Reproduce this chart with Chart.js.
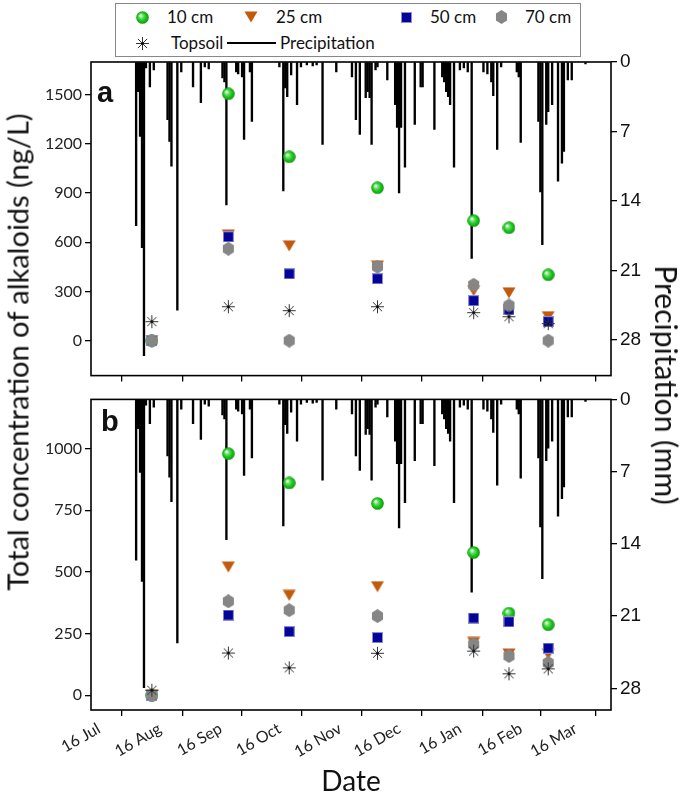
<!DOCTYPE html>
<html>
<head>
<meta charset="utf-8">
<script src="https://cdn.jsdelivr.net/npm/chart.js"></script>
<style>
  body { margin: 0; width: 685px; height: 798px; position: relative; background: #fff; overflow: hidden; font-family: Lato, sans-serif; color: #111; }
  canvas { position: absolute; left: 0; }
  #chartA { top: 0; }
  #chartB { top: 385px; }
  .legend { position: absolute; left: 115px; top: 3px; width: 466px; height: 54px; border: 1px solid #888; box-sizing: border-box; background: #fff; }
  .lg { position: absolute; font-size: 17px; line-height: 17px; white-space: nowrap; }
  .mk { position: absolute; }
  .panel { position: absolute; font-family: "Liberation Sans", Arial, sans-serif; font-weight: bold; font-size: 29px; }
  .title { position: absolute; white-space: nowrap; font-size: 29px; }
</style>
</head>
<body>
<canvas id="chartA" width="685" height="390"></canvas>
<canvas id="chartB" width="685" height="413"></canvas>

<div class="legend"></div>
<div id="legendItems"></div>

<div class="panel" style="left:97px; top:76px;">a</div>
<div class="panel" style="left:101px; top:405px;">b</div>

<div class="title" style="left:17px; top:352px; transform: translate(-50%,-50%) rotate(-90deg);">Total concentration of alkaloids (ng/L)</div>
<div class="title" style="left:667px; top:385px; font-size:30px; transform: translate(-50%,-50%) rotate(90deg);">Precipitation (mm)</div>
<div class="title" style="left:351px; top:780px; font-size:28px; transform: translate(-50%,-50%);">Date</div>

<script>
// days counted from 16 Jul
const xTickDays = [0, 31, 62, 92, 123, 153, 184, 215, 243];
const xTickLabels = ['16 Jul', '16 Aug', '16 Sep', '16 Oct', '16 Nov', '16 Dec', '16 Jan', '16 Feb', '16 Mar'];
const leftTicksA = [0, 300, 600, 900, 1200, 1500];
const leftTicksB = [0, 250, 500, 750, 1000];
const rightTicks = [0, 7, 14, 21, 28];

const sampleDays = [31, 70, 101, 146, 195, 213, 233];

// panel a
const a10cm    = [0, 1506, 1122, 933, 732, 689, 402];
const a25cm    = [0, 645, 578, 455, 305, 292, 146];
const a50cm    = [0, 634, 408, 378, 244, 189, 116];
const a70cm    = [0, 561, 0, 451, 341, 215, 0];
const aTopsoil = [116, 207, 183, 207, 171, 146, 104];

// panel b
const b10cm    = [0, 980, 861, 778, 579, 333, 286];
const b25cm    = [0, 520, 405, 440, 214, 167, 167];
const b50cm    = [0, 325, 258, 234, 313, 298, 191];
const b70cm    = [0, 381, 345, 321, 206, 159, 131];
const bTopsoil = [20, 171, 111, 170, 179, 87, 107];

// daily precipitation (mm)
const precipDay = [23, 24, 25, 26, 27, 28, 30, 32, 39, 40, 41, 44, 46, 52, 56, 58, 60,
  67, 68, 69, 74, 75, 77, 78, 81, 82, 96, 98, 99, 100, 102, 105, 107, 110, 113, 115, 118,
  125, 133, 135, 137, 140, 141, 142, 143, 145, 146, 151, 155, 156, 157, 158, 160, 165, 168, 169,
  175, 179, 180, 181, 182, 183, 185, 188, 190, 192, 194, 200, 202, 204, 205, 207, 209,
  217, 218, 219, 228, 229, 230, 232, 233, 235, 238, 240, 241, 243, 245, 252];
const precipMm = [16.5, 3.0, 7.5, 18.7, 29.6, 0.6, 2.5, 0.8, 5.8, 8.0, 10.5, 25.0, 1.0, 2.5, 4.1, 0.5, 0.7,
  1.6, 2.0, 14.4, 1.0, 1.2, 1.5, 7.8, 1.0, 6.0, 0.5, 13.0, 2.6, 3.5, 1.3, 4.3, 0.5, 0.3, 0.4, 0.3, 8.3,
  1.0, 1.5, 5.8, 7.3, 3.6, 3.0, 3.6, 8.3, 0.8, 0.5, 1.8, 4.3, 6.6, 13.2, 6.6, 10.6, 6.3, 2.5, 2.5,
  6.8, 1.5, 2.0, 3.0, 3.5, 4.3, 10.6, 0.8, 0.6, 1.0, 19.8, 1.0, 1.2, 2.0, 3.4, 8.8, 0.5,
  1.0, 1.5, 8.1, 6.0, 13.1, 18.4, 6.3, 5.0, 4.3, 12.0, 10.2, 9.0, 1.8, 1.8, 0.2];

// ---- marker images ----
function mkCanvas(w, h) {
  const c = document.createElement('canvas');
  c.width = w; c.height = h;
  return c;
}
function sphere() {
  const c = mkCanvas(13, 13), g = c.getContext('2d');
  const grd = g.createRadialGradient(4.5, 4.5, 0.5, 6.5, 6.5, 6.5);
  grd.addColorStop(0, '#ffffff');
  grd.addColorStop(0.25, '#6be86b');
  grd.addColorStop(0.6, '#22c422');
  grd.addColorStop(1, '#0b960b');
  g.fillStyle = grd;
  g.beginPath(); g.arc(6.5, 6.5, 6.3, 0, Math.PI * 2); g.fill();
  return c;
}
function triDown() {
  const c = mkCanvas(14, 12), g = c.getContext('2d');
  g.fillStyle = '#c25a0e';
  g.beginPath(); g.moveTo(0.5, 0.5); g.lineTo(13.5, 0.5); g.lineTo(7, 11.5); g.closePath(); g.fill();
  return c;
}
function square() {
  const c = mkCanvas(11, 11), g = c.getContext('2d');
  g.fillStyle = '#8c8cd0'; g.fillRect(0, 0, 11, 11);
  g.fillStyle = '#04049a'; g.fillRect(1, 1, 9, 9);
  return c;
}
function hexagon() {
  const c = mkCanvas(13, 14), g = c.getContext('2d');
  g.fillStyle = '#868686';
  g.beginPath();
  for (let i = 0; i < 6; i++) {
    const a = Math.PI / 2 + i * Math.PI / 3;
    const px = 6.5 + 6.4 * Math.cos(a), py = 7 + 6.9 * Math.sin(a);
    i ? g.lineTo(px, py) : g.moveTo(px, py);
  }
  g.closePath(); g.fill();
  return c;
}
function asterisk() {
  const c = mkCanvas(15, 15), g = c.getContext('2d');
  g.strokeStyle = '#333'; g.lineWidth = 1;
  g.beginPath();
  for (let i = 0; i < 4; i++) {
    const a = i * Math.PI / 4;
    g.moveTo(7.5 - 6.5 * Math.cos(a), 7.5 - 6.5 * Math.sin(a));
    g.lineTo(7.5 + 6.5 * Math.cos(a), 7.5 + 6.5 * Math.sin(a));
  }
  g.stroke();
  g.fillStyle = '#000'; g.fillRect(6.5, 6.5, 2, 2);
  return c;
}
const mSphere = sphere(), mTri = triDown(), mSq = square(), mHex = hexagon(), mAst = asterisk();

// ---- legend (html) ----
const legendItems = [
  [mSphere, 142, 17, '10 cm', 167],
  [mTri, 251, 17, '25 cm', 276],
  [mSq, 406, 17, '50 cm', 430],
  [mHex, 501, 17, '70 cm', 525],
  [mAst, 142, 43, 'Topsoil', 171]
];
const lg = document.getElementById('legendItems');
legendItems.forEach(([m, cx, cy, txt, tx]) => {
  const img = document.createElement('img');
  img.src = m.toDataURL();
  img.className = 'mk';
  img.style.left = (cx - m.width / 2) + 'px';
  img.style.top = (cy - m.height / 2) + 'px';
  lg.appendChild(img);
  const s = document.createElement('div');
  s.className = 'lg'; s.textContent = txt;
  s.style.left = tx + 'px'; s.style.top = (cy - 9) + 'px';
  lg.appendChild(s);
});
const ln = document.createElement('div');
ln.style.cssText = 'position:absolute;left:227px;top:42px;width:49px;height:2px;background:#000';
lg.appendChild(ln);
const pt = document.createElement('div');
pt.className = 'lg'; pt.textContent = 'Precipitation';
pt.style.left = '280px'; pt.style.top = '34px';
lg.appendChild(pt);

// ---- charts ----
const pts = vals => sampleDays.map((d, i) => ({ x: d, y: vals[i] }));
const precipData = precipDay.map((d, i) => ({ x: d, y: precipMm[i] }));

const frame = {
  id: 'frame',
  afterDraw(chart) {
    const a = chart.chartArea, c = chart.ctx;
    c.save();
    c.strokeStyle = '#000'; c.lineWidth = 1.6;
    c.strokeRect(a.left, a.top, a.right - a.left, a.bottom - a.top);
    c.restore();
  }
};

const tickGrid = { display: true, drawOnChartArea: false, drawTicks: true, tickLength: 6, color: '#000', lineWidth: 1.3 };
const setTicks = arr => s => { s.ticks = arr.map(v => ({ value: v })); };

function scatterSets(v10, v25, v50, v70, vTop, precipAxis) {
  return [
    { label: 'Topsoil', data: pts(vTop), pointStyle: mAst, yAxisID: 'y' },
    { label: '70 cm', data: pts(v70), pointStyle: mHex, yAxisID: 'y' },
    { label: '50 cm', data: pts(v50), pointStyle: mSq, yAxisID: 'y' },
    { label: '25 cm', data: pts(v25), pointStyle: mTri, yAxisID: 'y' },
    { label: '10 cm', data: pts(v10), pointStyle: mSphere, yAxisID: 'y' },
    { type: 'bar', label: 'Precipitation', data: precipData, yAxisID: precipAxis,
      backgroundColor: '#000', barThickness: 1.7, grouped: false }
  ];
}

function makeChart(id, opts) {
  return new Chart(document.getElementById(id), {
    type: 'scatter',
    data: { datasets: opts.datasets },
    plugins: [frame],
    options: {
      responsive: false, animation: false, devicePixelRatio: 1,
      layout: { padding: { top: opts.padTop, left: 0, right: 0, bottom: 0 } },
      plugins: { legend: { display: false }, tooltip: { enabled: false } },
      scales: opts.scales
    }
  });
}

const xBase = {
  type: 'linear', min: 0, max: 265, offset: false,
  afterBuildTicks: setTicks(xTickDays),
  grid: tickGrid, border: { display: false }
};
const leftFont = { family: 'Lato', size: 16 };
const rightFont = { family: 'Liberation Sans', size: 19 };
const plain = v => String(v);

makeChart('chartA', {
  padTop: 62,
  datasets: scatterSets(a10cm, a25cm, a50cm, a70cm, aTopsoil, 'y2'),
  scales: {
    x: Object.assign({}, xBase, {
      ticks: { callback: () => '' },
      afterFit: s => { s.height = 13; }
    }),
    y: {
      position: 'left', min: -213, max: 1700,
      afterBuildTicks: setTicks(leftTicksA),
      afterFit: s => { s.width = 91; },
      ticks: { font: leftFont, color: '#222', padding: 3, callback: plain },
      grid: tickGrid, border: { display: false }
    },
    y2: {
      position: 'right', reverse: true, min: 0, max: 31.6,
      afterBuildTicks: setTicks(rightTicks),
      afterFit: s => { s.width = 74; },
      ticks: { font: rightFont, color: '#111', padding: 3, callback: plain },
      grid: tickGrid, border: { display: false }
    }
  }
});

makeChart('chartB', {
  padTop: 7,
  datasets: scatterSets(b10cm, b25cm, b50cm, b70cm, bTopsoil, 'yp'),
  scales: {
    x: Object.assign({}, xBase, {
      ticks: {
        font: { family: 'Lato', size: 16 }, color: '#222', padding: 3, labelOffset: 8,
        maxRotation: 30, minRotation: 30, autoSkip: false,
        callback: (v, i) => xTickLabels[i]
      },
      afterFit: s => { s.height = 88; }
    }),
    y: {
      position: 'left', min: -60, max: 1200,
      afterBuildTicks: setTicks(leftTicksB),
      afterFit: s => { s.width = 91; },
      ticks: { font: leftFont, color: '#222', padding: 3, callback: plain },
      grid: tickGrid, border: { display: false }
    },
    y2: {
      position: 'right', reverse: true, min: 0, max: 30.1,
      afterBuildTicks: setTicks(rightTicks),
      afterFit: s => { s.width = 74; },
      ticks: { font: rightFont, color: '#111', padding: 3, callback: plain },
      grid: tickGrid, border: { display: false }
    },
    yp: { display: false, reverse: true, min: 0, max: 31.9 }
  }
});
</script>
</body>
</html>
